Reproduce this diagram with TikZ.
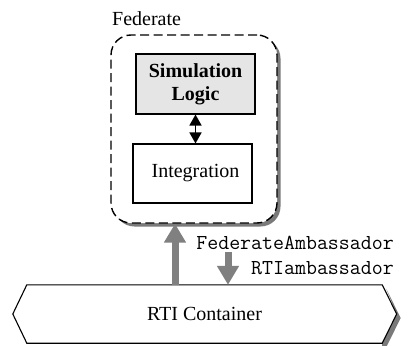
\documentclass[tikz,border=0pt]{standalone}
\usepackage{fontspec}
\setmainfont{Liberation Serif}
\usetikzlibrary{arrows.meta,calc,shadows,backgrounds}
\definecolor{arrowgray}{HTML}{808080}
\definecolor{shadowgray}{HTML}{7A7A7A}
\begin{document}
\begin{tikzpicture}[x=1pt,y=-1pt,
  every node/.style={font=\fontsize{20}{23}\selectfont},
  fedbox/.style={draw, dashed, dash pattern=on 9pt off 4.5pt, line width=1.4pt, rounded corners=20pt,
     fill=white, minimum width=166pt, minimum height=188pt,
     drop shadow={shadow xshift=3.5pt, shadow yshift=-3.5pt, fill=shadowgray, opacity=1}},
  innerbox/.style={draw, line width=1.1pt, minimum width=119pt, minimum height=60pt, align=center, inner sep=2pt},
  monolabel/.style={font=\ttfamily\fontsize{21.3}{24}\selectfont, inner sep=0pt},
  grayarrow/.style={draw=arrowgray, line width=7pt, -{Triangle[width=21pt,length=19pt]}, arrowgray},
  dbl/.style={line width=1.6pt, {Triangle[length=11pt,width=12pt]}-{Triangle[length=11pt,width=12pt]}}
]
\useasboundingbox (0,0) rectangle (409,345);

\node[anchor=west, inner sep=0pt] (fedlabel) at (112,19) {Federate};
\node[fedbox] (fed) at (194,129) {};
\node[innerbox, fill=black!10, font=\bfseries\fontsize{20}{23}\selectfont] (sim) at (195.5,84) {Simulation\\Logic};
\node[innerbox, minimum height=59pt] (integ) at (192.5,173.5) {\hspace{6pt}Integration};
\draw[dbl] (sim.south) -- (sim.south |- integ.north);

% RTI container hexagon
\node[minimum width=355pt, minimum height=58pt, inner sep=0pt] (rti) at (204.5,314) {RTI Container};
\begin{pgfonlayer}{background}
\fill[shadowgray] ($(rti.north east)+(4,4)$) -- ($(rti.east)+(18.5,4)$) -- ($(rti.south east)+(4,4)$) -- ($(rti.south east)+(0,4)$) -- (rti.south east) -- ($(rti.east)+(14.5,0)$) -- cycle;
\draw[line width=1.1pt, fill=white] ($(rti.west)+(-14,0)$) -- (rti.north west) -- (rti.north east)
   -- ($(rti.east)+(14.5,0)$) -- (rti.south east) -- (rti.south west) -- cycle;
\end{pgfonlayer}

\draw[grayarrow] (rti.north -| 175,0) -- (fed.south -| 175,0);
\coordinate (downstart) at (228,252);
\draw[grayarrow] (downstart) -- (rti.north -| downstart);

\node[monolabel, anchor=east] (fa) at (394,243) {FederateAmbassador};
\node[monolabel, anchor=east] (ra) at (394,268) {RTIambassador};
\end{tikzpicture}
\end{document}
